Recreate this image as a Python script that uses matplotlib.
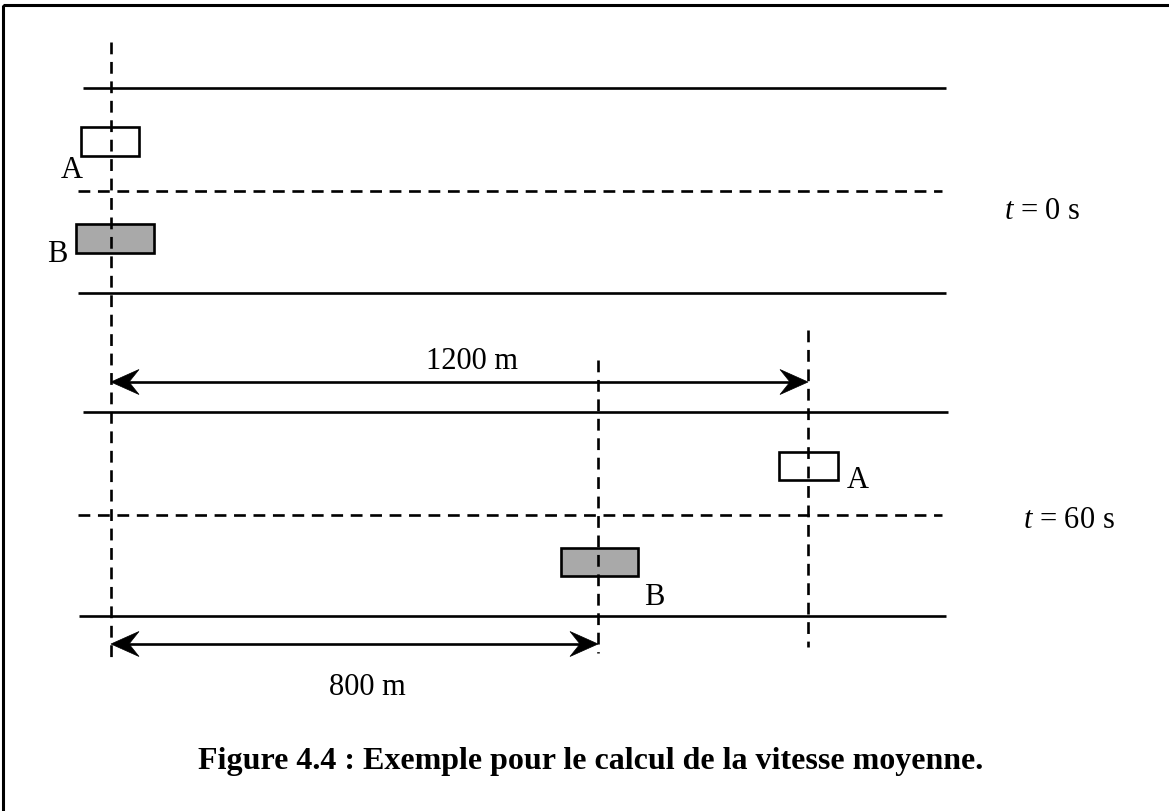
import matplotlib
matplotlib.use("Agg")
import matplotlib.pyplot as plt
from matplotlib.patches import Rectangle, Polygon

plt.rcParams['font.family'] = ['Liberation Serif', 'DejaVu Serif']
plt.rcParams['mathtext.fontset'] = 'custom'
plt.rcParams['mathtext.it'] = 'Liberation Serif:italic'
plt.rcParams['mathtext.rm'] = 'Liberation Serif'
plt.rcParams['lines.scale_dashes'] = False

# ---- data (drawing space in pixels, y downwards) ----
line_y = [88, 191, 293, 412, 515, 616]
line_x0 = [83, 78, 78, 83, 78, 79]
line_x1 = [946, 942, 946, 948, 942, 946]
line_dashed = [False, True, False, False, True, False]

marker_x = [111, 598, 808]
marker_y0 = [42, 360, 330]
marker_y1 = [659, 653, 647]

veh_labels = ['A', 'B', 'A', 'B']
veh_x0 = [81, 76, 779, 561]
veh_x1 = [139, 154, 838, 638]
veh_y0 = [127, 224, 452, 548]
veh_y1 = [156, 253, 480, 576]
veh_fill = ['white', '#a9a9a9', 'white', '#a9a9a9']
veh_lx = [72, 57, 858, 654]
veh_ly = [178, 262, 488, 605]

dist_labels = ['1200 m', '800 m']
dist_x0 = [111, 111]
dist_x1 = [808, 598]
dist_y = [382, 644]
dist_tx = [472, 367]
dist_ty = [369, 695]

time_labels = [r'$t$ = 0 s', r'$t$ = 60 s']
time_x = [1042, 1069]
time_y = [219, 528]

caption = 'Figure 4.4 : Exemple pour le calcul de la vitesse moyenne.'

W, H = 1169, 811
fig = plt.figure(figsize=(W / 100, H / 100), dpi=100)
ax = fig.add_axes([0, 0, 1, 1])
ax.set_xlim(0, W)
ax.set_ylim(H, 0)
ax.axis('off')

LW = 1.9
DASH = (8.5, 5.5)

# frame
ax.add_patch(Rectangle((3, 5), W + 10, H + 10, fill=False, lw=2.2, ec='black'))

# road lines
for y, x0, x1, d in zip(line_y, line_x0, line_x1, line_dashed):
    ls = (0, DASH) if d else '-'
    ax.plot([x0, x1], [y, y], color='black', lw=LW, linestyle=ls, solid_capstyle='butt',
            dash_capstyle='butt')

# vertical position markers
for x, y0, y1 in zip(marker_x, marker_y0, marker_y1):
    ax.plot([x, x], [y0, y1], color='black', lw=LW, linestyle=(0, DASH), dash_capstyle='butt',
            zorder=3)

# vehicles
for lab, x0, x1, y0, y1, fc, lx, ly in zip(veh_labels, veh_x0, veh_x1, veh_y0, veh_y1,
                                           veh_fill, veh_lx, veh_ly):
    ax.add_patch(Rectangle((x0, y0), x1 - x0, y1 - y0, fc=fc, ec='black', lw=1.9, zorder=2))
    ax.text(lx, ly, lab, fontsize=22, ha='center', va='baseline')


def stealth(tip_x, y, direction, L=28, hw=12.5, notch=18):
    pts = [(tip_x, y),
           (tip_x - direction * L, y - hw),
           (tip_x - direction * notch, y),
           (tip_x - direction * L, y + hw)]
    return Polygon(pts, closed=True, fc='black', ec='black', lw=0.5, zorder=4)


# distance arrows
for lab, x0, x1, y, tx, ty in zip(dist_labels, dist_x0, dist_x1, dist_y, dist_tx, dist_ty):
    ax.plot([x0 + 15, x1 - 15], [y, y], color='black', lw=LW, solid_capstyle='butt', zorder=4)
    ax.add_patch(stealth(x0, y, -1))
    ax.add_patch(stealth(x1, y, 1))
    ax.text(tx, ty, lab, fontsize=22, ha='center', va='baseline')

# time labels
for lab, x, y in zip(time_labels, time_x, time_y):
    ax.text(x, y, lab, fontsize=22, ha='center', va='baseline')

ax.text(198, 769, caption, fontsize=23, fontweight='bold', ha='left', va='baseline')

fig.savefig('out.png', dpi=100)
